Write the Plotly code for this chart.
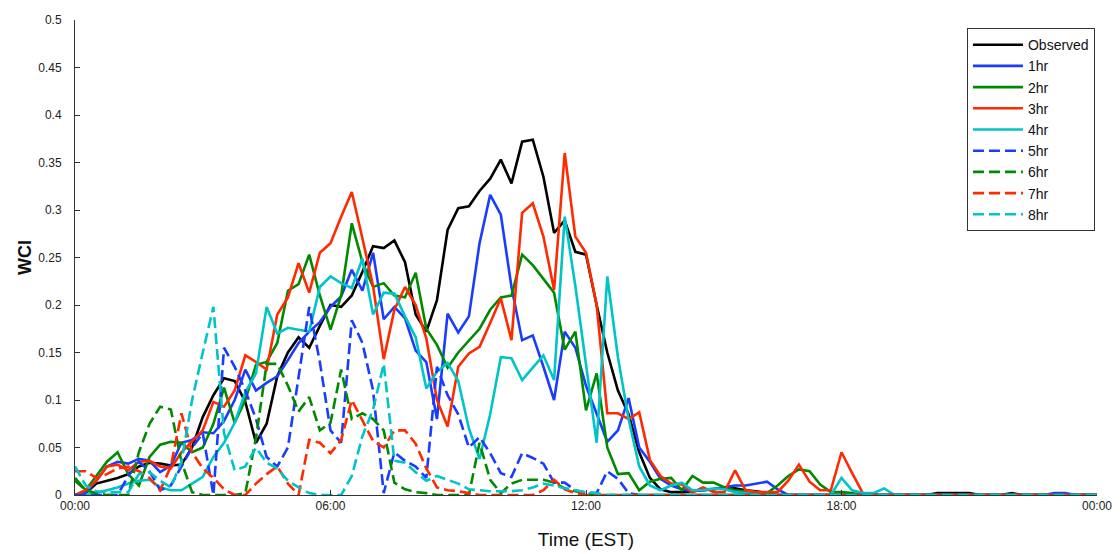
import plotly.graph_objects as go

# 15-minute samples from 00:00 to 24:00 (97 points)
hours = [i * 0.25 for i in range(97)]

observed = [
    0, 0.002, 0.012, 0.015, 0.018, 0.022, 0.03, 0.034, 0.033, 0.031,
    0.032, 0.05, 0.082, 0.105, 0.123, 0.12, 0.098, 0.055, 0.075, 0.125,
    0.15, 0.166, 0.155, 0.178, 0.2, 0.198, 0.21, 0.235, 0.262, 0.26,
    0.268, 0.245, 0.19, 0.172, 0.205, 0.279, 0.302, 0.304, 0.32, 0.333,
    0.353, 0.328, 0.372, 0.374, 0.335, 0.276, 0.289, 0.256, 0.253, 0.2,
    0.15, 0.11, 0.085, 0.045, 0.018, 0.006, 0.003, 0.003, 0.004, 0.005,
    0.006, 0.008, 0.007, 0.005, 0.004, 0.002, 0, 0, 0, 0,
    0, 0, 0, 0, 0, 0, 0, 0, 0, 0,
    0, 0.002, 0.002, 0.002, 0.002, 0, 0, 0, 0.002, 0,
    0, 0, 0, 0, 0, 0, 0]

hr1 = [
    0, 0.002, 0.015, 0.03, 0.035, 0.033, 0.038, 0.036, 0.024, 0.031,
    0.055, 0.058, 0.066, 0.065, 0.078, 0.1, 0.132, 0.11, 0.118, 0.125,
    0.142, 0.16, 0.172, 0.182, 0.198, 0.209, 0.237, 0.215, 0.255, 0.185,
    0.198, 0.186, 0.152, 0.14, 0.08, 0.191, 0.171, 0.188, 0.265, 0.316,
    0.295, 0.219, 0.163, 0.168, 0.135, 0.1, 0.172, 0.155, 0.115, 0.085,
    0.056, 0.068, 0.102, 0.05, 0.035, 0.017, 0.01, 0.006, 0.004, 0.005,
    0.006, 0.008, 0.01, 0.01, 0.012, 0.014, 0.006, 0, 0, 0,
    0, 0, 0, 0, 0, 0, 0, 0, 0, 0,
    0, 0, 0, 0, 0, 0, 0, 0, 0, 0,
    0, 0, 0.002, 0.002, 0, 0, 0]

hr2 = [
    0.018, 0.005, 0.02, 0.035, 0.045, 0.022, 0.01, 0.04, 0.053, 0.056,
    0.055, 0.045, 0.05, 0.075, 0.113, 0.076, 0.1, 0.137, 0.14, 0.16,
    0.215, 0.222, 0.253, 0.21, 0.174, 0.21, 0.286, 0.245, 0.219, 0.223,
    0.21, 0.208, 0.234, 0.175, 0.158, 0.134, 0.15, 0.162, 0.175, 0.195,
    0.208, 0.21, 0.253, 0.242, 0.228, 0.213, 0.153, 0.172, 0.089, 0.128,
    0.05, 0.022, 0.023, 0.005, 0.014, 0.017, 0.018, 0.005, 0.02, 0.013,
    0.013, 0.008, 0.005, 0.004, 0.003, 0.002, 0.01, 0.02, 0.027, 0.025,
    0.011, 0.003, 0.003, 0.002, 0, 0, 0, 0, 0, 0,
    0, 0, 0, 0, 0, 0, 0, 0, 0, 0,
    0, 0, 0, 0, 0, 0, 0]

hr3 = [
    0, 0.005, 0.015, 0.03, 0.032, 0.026, 0.035, 0.036, 0.03, 0.028,
    0.045, 0.056, 0.068, 0.098, 0.093, 0.11, 0.147, 0.14, 0.132, 0.19,
    0.208, 0.244, 0.213, 0.255, 0.265, 0.293, 0.319, 0.27, 0.22, 0.143,
    0.195, 0.219, 0.2, 0.165, 0.1, 0.072, 0.135, 0.149, 0.156, 0.181,
    0.207, 0.163, 0.297, 0.307, 0.272, 0.216, 0.36, 0.272, 0.255, 0.2,
    0.086, 0.086, 0.08, 0.087, 0.037, 0.02, 0.012, 0.011, 0.003, 0.008,
    0.003, 0.003, 0.026, 0.005, 0.003, 0.003, 0.003, 0.015, 0.032, 0.014,
    0.005, 0.005, 0.045, 0.023, 0.002, 0, 0, 0, 0, 0,
    0, 0, 0, 0, 0, 0, 0, 0, 0, 0,
    0, 0, 0, 0, 0, 0, 0]

hr4 = [
    0, 0, 0.002, 0.005, 0.008, 0.012, 0.015, 0.016, 0.008, 0.005,
    0.005, 0.012, 0.019, 0.04, 0.055, 0.076, 0.108, 0.128, 0.198, 0.17,
    0.176, 0.174, 0.172, 0.219, 0.23, 0.223, 0.218, 0.249, 0.19, 0.213,
    0.212, 0.188, 0.166, 0.112, 0.13, 0.139, 0.12, 0.07, 0.038, 0.085,
    0.145, 0.144, 0.121, 0.134, 0.147, 0.121, 0.293, 0.22, 0.139, 0.055,
    0.23, 0.145, 0.08, 0.03, 0.01, 0.005, 0.01, 0.013, 0.005, 0.005,
    0.007, 0.006, 0.003, 0.002, 0, 0, 0, 0, 0, 0,
    0, 0, 0.018, 0.005, 0.002, 0.002, 0.007, 0, 0, 0,
    0, 0, 0, 0, 0, 0, 0, 0, 0, 0,
    0, 0, 0, 0, 0, 0, 0]

hr5 = [
    0, 0, 0, 0, 0, 0.02, 0.035, 0.025, 0.005, 0.01,
    0.03, 0.05, 0.065, 0, 0.155, 0.135, 0.11, 0.08, 0.04, 0.03,
    0.05, 0.125, 0.198, 0.14, 0.068, 0.055, 0.184, 0.16, 0.11, 0.002,
    0.045, 0.036, 0.03, 0.018, 0.135, 0.105, 0.085, 0.05, 0.061, 0.044,
    0.023, 0.019, 0.044, 0.039, 0.033, 0.013, 0.013, 0.005, 0.002, 0.002,
    0.025, 0.017, 0.002, 0, 0, 0, 0, 0, 0, 0,
    0, 0, 0, 0, 0, 0, 0, 0, 0, 0,
    0, 0, 0, 0, 0, 0, 0, 0, 0, 0,
    0, 0, 0, 0, 0, 0, 0, 0, 0, 0,
    0, 0, 0, 0, 0, 0, 0]

hr6 = [
    0.015, 0.005, 0.002, 0, 0, 0, 0.045, 0.075, 0.093, 0.09,
    0.035, 0.003, 0, 0, 0, 0, 0.002, 0.06, 0.138, 0.138,
    0.115, 0.088, 0.103, 0.068, 0.076, 0.132, 0.08, 0.086, 0.08, 0.068,
    0.013, 0.006, 0.003, 0.002, 0, 0, 0, 0, 0.055, 0.016,
    0.002, 0.012, 0.016, 0.016, 0.016, 0.013, 0.007, 0.004, 0.002, 0,
    0, 0, 0, 0, 0, 0, 0, 0, 0, 0,
    0, 0, 0, 0, 0, 0, 0, 0, 0, 0,
    0, 0, 0, 0, 0, 0, 0, 0, 0, 0,
    0, 0, 0, 0, 0, 0, 0, 0, 0, 0,
    0, 0, 0, 0, 0, 0, 0]

hr7 = [
    0.025, 0.025, 0.018, 0.022, 0.028, 0.03, 0.025, 0.018, 0.005, 0.03,
    0.086, 0.045, 0.028, 0.018, 0.006, 0, 0, 0.012, 0.022, 0.03,
    0.012, 0, 0.058, 0.055, 0.044, 0.058, 0.1, 0.078, 0.057, 0.05,
    0.068, 0.068, 0.054, 0.028, 0.008, 0.005, 0.004, 0.002, 0, 0,
    0, 0, 0, 0, 0.005, 0.016, 0.006, 0.002, 0, 0,
    0, 0, 0, 0, 0, 0, 0, 0, 0, 0,
    0, 0, 0, 0, 0, 0, 0, 0, 0, 0,
    0, 0, 0, 0, 0, 0, 0, 0, 0, 0,
    0, 0, 0, 0, 0, 0, 0, 0, 0, 0,
    0, 0, 0, 0, 0, 0, 0]

hr8 = [
    0.03, 0.01, 0.004, 0.003, 0.003, 0.003, 0.022, 0.024, 0.015, 0.008,
    0.035, 0.1, 0.15, 0.198, 0.065, 0.026, 0.03, 0.05, 0.034, 0.028,
    0.015, 0.008, 0.002, 0, 0, 0, 0.02, 0.062, 0.09, 0.138,
    0.036, 0.034, 0.024, 0.015, 0.02, 0.016, 0.012, 0.006, 0.005, 0.004,
    0.004, 0.004, 0.005, 0.008, 0.012, 0.01, 0.007, 0.005, 0.003, 0.002,
    0, 0, 0, 0, 0, 0, 0, 0, 0, 0,
    0, 0, 0, 0, 0, 0, 0, 0, 0, 0,
    0, 0, 0, 0, 0, 0, 0, 0, 0, 0,
    0, 0, 0, 0, 0, 0, 0, 0, 0, 0,
    0, 0, 0, 0, 0, 0, 0]

names = ["Observed", "1hr", "2hr", "3hr", "4hr", "5hr", "6hr", "7hr", "8hr"]
values = [observed, hr1, hr2, hr3, hr4, hr5, hr6, hr7, hr8]
colors = ["#000000", "#1a3cff", "#008a00", "#ff2a00", "#00c4c8",
          "#1a3cff", "#008a00", "#ff2a00", "#00c4c8"]
dashes = ["solid"] * 5 + ["11px,5px"] * 4

xtick_vals = [0, 6, 12, 18, 24]
xtick_text = ["00:00", "06:00", "12:00", "18:00", "00:00"]

FONT = "Liberation Sans, Arial, sans-serif"

fig = go.Figure()
for n, v, c, d in zip(names, values, colors, dashes):
    fig.add_trace(go.Scatter(x=hours, y=v, name=n, mode="lines",
                             line=dict(color=c, width=2.6, dash=d)))

fig.update_layout(
    width=1120, height=554,
    margin=dict(l=75, r=23, t=20, b=59),
    paper_bgcolor="white", plot_bgcolor="white",
    font=dict(family=FONT, size=12, color="#222"),
    showlegend=True,
    legend=dict(x=0.998, y=0.983, xanchor="right", yanchor="top",
                bgcolor="white", bordercolor="#333", borderwidth=1,
                font=dict(family=FONT, size=14, color="#111"),
                itemwidth=50, tracegroupgap=0),
)
fig.update_xaxes(range=[0, 24], tickmode="array", tickvals=xtick_vals,
                 ticktext=xtick_text, ticks="inside", ticklen=5,
                 tickcolor="#333", showline=True, linecolor="#333",
                 linewidth=1, showgrid=False, zeroline=False,
                 automargin=False,
                 tickfont=dict(size=12, color="#222"),
                 title=dict(text="Time (EST)", font=dict(size=19, color="#111"),
                            standoff=20))
fig.update_yaxes(range=[0, 0.5], tick0=0, dtick=0.05, ticks="inside",
                 ticklen=5, tickcolor="#333", showline=True,
                 linecolor="#333", linewidth=1, showgrid=False,
                 zeroline=False, ticklabelstandoff=10, automargin=False,
                 tickfont=dict(size=12, color="#222"),
                 title=dict(text="<b>WCI</b>", font=dict(size=18, color="#111"),
                            standoff=1))

fig.write_html("out.html")
